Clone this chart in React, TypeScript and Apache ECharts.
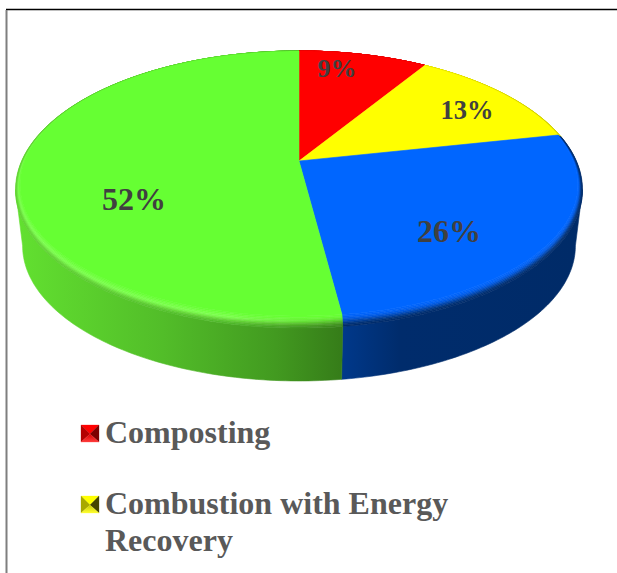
import React, { useEffect, useRef } from "react";
import * as echarts from "echarts";

// Slice shares in percent, clockwise from twelve o'clock.
const shares = [9, 13, 26, 52];
const faceColors = ["#ff0000", "#ffff00", "#0066ff", "#66ff33"];
const legendLabels = ["Composting", "Combustion with Energy\nRecovery"];

// Bevel bands, from the flat face outwards to the rim. Each row holds the
// band's colour at the left, middle and right of its horizontal run.
const bevelBands = [
  [["#ff0000"], ["#ff0000"], ["#ff0000"], ["#fc0000"], ["#f80000"], ["#f00000"], ["#e60000"], ["#d80000"]],
  [["#ffff00"], ["#ffff00"], ["#ffff00"], ["#fcfc00"], ["#f8f800"], ["#f0ee00"], ["#e4e200"], ["#cfcc00"]],
  [["#0064fa"], ["#0062f6"], ["#005dea"], ["#0054d4"], ["#0048b4"], ["#003c94"], ["#003278"], ["#002c6c"]],
  [
    ["#68ff36", "#68ff36", "#66ff33"],
    ["#6cff3a", "#6eff3c", "#66f832"],
    ["#72ff42", "#76ff46", "#62ec30"],
    ["#78ff4a", "#7cff4e", "#5cd82c"],
    ["#76f848", "#74f046", "#54c028"],
    ["#6eea40", "#66d838", "#4ba824"],
    ["#66dc38", "#5ac630", "#429320"],
    ["#5fd430", "#4fb82a", "#39861b"],
  ],
];

// Perspective used to project the disc onto the page.
const PIVOT_X = 299;
const PIVOT_Y = 161;
const SPREAD_X = 277.4;
const SPREAD_Y = 132.7;
const TILT = 0.206;
const BASE_PIVOT_Y = 218;
const BASE_SCALE = 0.975;
const BEVEL_DROP = 12;
const BEVEL_INSET = 6;
const SAMPLES = 90;

const labelLayout = [
  { x: 337, y: 68, size: 26 },
  { x: 467, y: 110, size: 26.5 },
  { x: 449, y: 231, size: 32 },
  { x: 134, y: 199, size: 32 },
];

const SERIF = "'Liberation Serif', 'Times New Roman', serif";
const TWO_PI = Math.PI * 2;
const total = shares.reduce((a, b) => a + b, 0);

function project(theta: number, pivotY: number, scale: number): [number, number] {
  const X = Math.sin(theta);
  const Y = Math.cos(theta);
  const w = 1 + TILT * Y;
  return [PIVOT_X + (scale * SPREAD_X * X) / w, pivotY - (scale * SPREAD_Y * Y) / w];
}

// t = 1 is the rim of the disc, t = 0 the edge of the flat face.
function rimPoint(theta: number, t: number): [number, number] {
  const [x, y] = project(theta, PIVOT_Y, 1);
  const back = (1 - Math.cos(theta)) / 2;
  const k = 1 - t;
  return [
    x - k * BEVEL_INSET * Math.sin(theta) * Math.sqrt(back),
    y - k * BEVEL_DROP * back * back,
  ];
}

function arc(a: number, b: number, fn: (theta: number) => [number, number]) {
  const pts: [number, number][] = [];
  for (let i = 0; i <= SAMPLES; i++) pts.push(fn(a + ((b - a) * i) / SAMPLES));
  return pts;
}

function poly(points: [number, number][], fill: any) {
  return {
    type: "polygon",
    shape: { points },
    style: { fill, stroke: fill, lineWidth: 0.6 },
  };
}

function sideFill(index: number) {
  const stops =
    index === 3
      ? [
          { offset: 0, color: "#62e030" },
          { offset: 0.45, color: "#52bd29" },
          { offset: 0.8, color: "#429a20" },
          { offset: 1, color: "#367d19" },
        ]
      : [
          { offset: 0, color: "#00398c" },
          { offset: 0.25, color: "#002c6c" },
          { offset: 1, color: "#002b68" },
        ];
  const from = index === 3 ? 18 : 340;
  const to = index === 3 ? 340 : 578;
  return new echarts.graphic.LinearGradient(from, 0, to, 0, stops, true);
}

function bandFill(row: string[]) {
  if (row.length === 1) return row[0];
  const stops = [
    { offset: 0, color: row[0] },
    { offset: 0.66, color: row[1] },
    { offset: 1, color: row[2] },
  ];
  return new echarts.graphic.LinearGradient(18, 0, 340, 0, stops, true);
}

function renderSlice(params: any, api: any) {
  const i = params.dataIndex;
  const before = shares.slice(0, i).reduce((a, b) => a + b, 0);
  const start = (before / total) * TWO_PI;
  const end = ((before + api.value(0)) / total) * TWO_PI;
  const children: any[] = [];

  // Outer wall, only where it faces the viewer.
  const visibleFrom = Math.acos(-TILT);
  const visibleTo = TWO_PI - visibleFrom;
  const a = Math.max(start, visibleFrom);
  const b = Math.min(end, visibleTo);
  if (b > a) {
    const upper = arc(a, b, (t) => project(t, PIVOT_Y, 1));
    const lower = arc(b, a, (t) => project(t, BASE_PIVOT_Y, BASE_SCALE));
    children.push(poly([...upper, ...lower], sideFill(i)));
  }

  // Bevel bands between rim and face.
  const bands = bevelBands[i];
  bands.forEach((row, n) => {
    const inner = n / bands.length;
    const outer = (n + 1) / bands.length;
    const o = arc(start, end, (t) => rimPoint(t, outer));
    const r = arc(end, start, (t) => rimPoint(t, inner));
    children.push(poly([...o, ...r], bandFill(row)));
  });

  // Flat face.
  const face: [number, number][] = [[PIVOT_X, PIVOT_Y], ...arc(start, end, (t) => rimPoint(t, 0))];
  children.push(poly(face, faceColors[i]));

  const label = labelLayout[i];
  children.push({
    type: "text",
    z2: 10,
    style: {
      text: `${api.value(0)}%`,
      x: label.x,
      y: label.y,
      align: "center",
      verticalAlign: "middle",
      font: `bold ${label.size}px ${SERIF}`,
      fill: "#404040",
    },
  });
  return { type: "group", children };
}

// Small four-sided pyramid used as the legend key.
function legendKey(y: number, shades: string[]) {
  const x0 = 81;
  const x1 = 99;
  const y1 = y + 17;
  const cx = x0 + 9;
  const cy = y + 9;
  const tri = (pts: number[][], fill: any) => ({
    type: "polygon",
    shape: { points: pts },
    style: { fill, stroke: fill, lineWidth: 0.3 },
  });
  const base = new echarts.graphic.LinearGradient(0, cy, 0, y1, [
    { offset: 0, color: shades[3] },
    { offset: 1, color: shades[4] },
  ], true);
  return [
    tri([[x0, y], [x1, y], [cx, cy]], shades[0]),
    tri([[x0, y], [cx, cy], [x0, y1]], shades[1]),
    tri([[x1, y], [x1, y1], [cx, cy]], shades[2]),
    tri([[x0, y1], [x1, y1], [cx, cy]], base),
  ];
}

function legendText(text: string, y: number) {
  return {
    type: "text",
    style: {
      text,
      x: 105,
      y,
      font: `bold 32px ${SERIF}`,
      lineHeight: 37,
      fill: "#595959",
      verticalAlign: "top",
    },
  };
}

export default function App() {
  const ref = useRef<HTMLDivElement>(null);

  useEffect(() => {
    const chart = echarts.init(ref.current!, undefined, { renderer: "svg" });
    chart.setOption({
      animation: false,
      backgroundColor: "#ffffff",
      graphic: [
        { type: "line", shape: { x1: 6, y1: 9.5, x2: 617, y2: 9.5 }, style: { stroke: "#000000", lineWidth: 1.4 } },
        { type: "line", shape: { x1: 6.5, y1: 10, x2: 6.5, y2: 573 }, style: { stroke: "#7f7f7f", lineWidth: 2 } },
        ...legendKey(425, ["#ff0000", "#b40000", "#7c0000", "#d80000", "#ff3c3c"]),
        ...legendKey(496, ["#ffff00", "#a8a800", "#444400", "#c8c800", "#ffff30"]),
        legendText(legendLabels[0], 413),
        legendText(legendLabels[1], 484),
      ],
      series: [
        {
          type: "custom",
          coordinateSystem: "none",
          silent: true,
          clip: false,
          data: shares.map((v) => [v]),
          renderItem: renderSlice,
        },
      ],
    });
    return () => chart.dispose();
  }, []);

  return <div ref={ref} style={{ position: "absolute", left: 0, top: 0, width: 617, height: 573 }} />;
}
